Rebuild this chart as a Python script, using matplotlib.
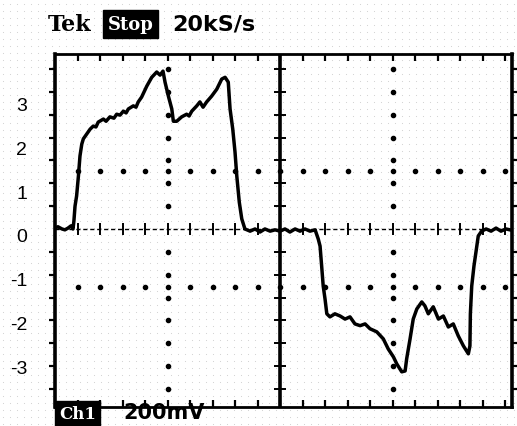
import numpy as np
import matplotlib
matplotlib.use("Agg")
import matplotlib.pyplot as plt
import matplotlib.transforms as mtransforms

# trace: time in minor graticule steps, signal in screen units
t = [0.00, 0.13, 0.31, 0.44, 0.58, 0.71, 0.80, 0.84, 0.89, 0.96, 1.04, 1.11, 1.19, 1.26,
     1.41, 1.56, 1.70, 1.82, 1.92, 2.15, 2.27, 2.44, 2.62, 2.74, 2.89, 3.04, 3.16, 3.26,
     3.48, 3.60, 3.70, 3.85, 4.08, 4.30, 4.52, 4.67, 4.80, 4.89, 5.04, 5.19, 5.26, 5.41,
     5.63, 5.85, 5.96, 6.08, 6.30, 6.44, 6.58, 6.74, 6.96, 7.19, 7.41, 7.56, 7.70, 7.78,
     7.90, 8.00, 8.08, 8.19, 8.30, 8.44, 8.67, 8.89, 9.11, 9.33, 9.56, 9.78, 10.00, 10.22,
     10.44, 10.67, 10.89, 11.11, 11.33, 11.56, 11.70, 11.78, 11.85, 11.92, 12.00, 12.08,
     12.22, 12.44, 12.67, 12.89, 13.11, 13.33, 13.56, 13.78, 14.00, 14.30, 14.59, 14.81,
     15.04, 15.19, 15.41, 15.56, 15.63, 15.78, 15.92, 16.08, 16.30, 16.44, 16.59, 16.81,
     17.04, 17.26, 17.48, 17.70, 17.92, 18.15, 18.37, 18.44, 18.46, 18.52, 18.62, 18.71,
     18.81, 18.96, 19.16, 19.38, 19.60, 19.82, 20.04, 20.22]
v = [0.02, 0.05, 0.00, -0.02, 0.02, 0.07, 0.00, 0.18, 0.52, 0.75, 1.20, 1.66, 1.93, 2.05,
     2.16, 2.27, 2.34, 2.32, 2.43, 2.50, 2.45, 2.55, 2.52, 2.61, 2.59, 2.68, 2.64, 2.73,
     2.80, 2.77, 2.89, 3.00, 3.25, 3.45, 3.57, 3.50, 3.59, 3.34, 3.02, 2.73, 2.45, 2.45,
     2.55, 2.61, 2.57, 2.68, 2.80, 2.89, 2.77, 2.89, 3.02, 3.18, 3.41, 3.45, 3.34, 2.73,
     2.27, 1.75, 1.20, 0.61, 0.23, 0.00, -0.05, 0.00, -0.07, 0.00, -0.05, -0.02, -0.05, 0.00,
     -0.07, 0.00, -0.05, 0.00, -0.05, -0.02, -0.23, -0.39, -0.84, -1.30, -1.59, -1.93,
     -2.00, -1.93, -1.98, -2.05, -2.00, -2.16, -2.20, -2.16, -2.27, -2.34, -2.50, -2.73,
     -2.91, -3.07, -3.25, -3.23, -2.95, -2.50, -2.05, -1.82, -1.66, -1.75, -1.93, -1.77,
     -2.05, -1.98, -2.23, -2.16, -2.43, -2.66, -2.84, -2.66, -1.93, -1.30, -0.84, -0.52,
     -0.16, -0.05, 0.00, -0.05, 0.02, -0.05, 0.00, -0.02]

y_ticks = [3, 2, 1, 0, -1, -2, -3]
header = "20kS/s"
scale = "200mV"

X_MAX = 20.31
Y_MIN, Y_MAX = -4.05, 3.98
X_MID = 10.0
Y_DIV = 1.32      # graticule row spacing in screen units
Y_STEP = 0.52     # minor tick step along vertical lines


def main():
    fig = plt.figure(figsize=(5.17, 4.27), dpi=100)

    # faint halftone texture of the scan
    gx, gy = np.meshgrid(np.arange(0.005, 1, 7 / 517), np.arange(0.005, 1, 7 / 427))
    bg = fig.add_axes([0, 0, 1, 1], zorder=-1)
    bg.scatter(gx.ravel(), gy.ravel(), s=0.6, color="#cfcfcf", linewidths=0)
    bg.set_xlim(0, 1)
    bg.set_ylim(0, 1)
    bg.axis("off")

    ax = fig.add_axes([55 / 517, 1 - 408 / 427, 457 / 517, 353 / 427])
    ax.patch.set_alpha(0)
    ax.set_xlim(0, X_MAX)
    ax.set_ylim(Y_MIN, Y_MAX)

    for s in ax.spines.values():
        s.set_linewidth(2.0)
    ax.spines["left"].set_linewidth(2.6)
    ax.spines["right"].set_linewidth(2.6)

    # graticule: centre cross
    ax.axvline(X_MID, color="black", lw=2.6, zorder=2)
    ax.axhline(0, color="black", lw=1.0, ls=(0, (3, 2)), zorder=2)

    xs = np.arange(1, X_MAX, 1.0)
    ys = np.concatenate([-np.arange(Y_STEP, -Y_MIN, Y_STEP), np.arange(Y_STEP, Y_MAX, Y_STEP)])
    # ticks on the centre lines
    ax.plot(xs, np.zeros_like(xs), ls="none", marker="|", ms=8, mew=1.4, color="black", zorder=2)
    ax.plot(np.full_like(ys, X_MID), ys, ls="none", marker="_", ms=9, mew=1.4, color="black", zorder=2)
    # ticks on the frame
    ax.plot(xs, np.full_like(xs, Y_MAX), ls="none", marker=3, ms=5, mew=1.6, color="black",
            clip_on=False)
    ax.plot(xs, np.full_like(xs, Y_MIN), ls="none", marker=2, ms=5, mew=1.6, color="black",
            clip_on=False)
    ax.plot(np.zeros_like(ys), ys, ls="none", marker=0, ms=4, mew=1.6, color="black",
            clip_on=False)
    ax.plot(np.full_like(ys, X_MAX), ys, ls="none", marker=1, ms=4, mew=1.6, color="black",
            clip_on=False)

    # dotted graticule rows / columns
    for yr in (-Y_DIV, Y_DIV):
        ax.plot(xs, np.full_like(xs, yr), ls="none", marker="o", ms=3.0, color="black")
    for xc in (5.0, 15.0):
        ax.plot(np.full_like(ys, xc), ys, ls="none", marker="o", ms=3.0, color="black")

    # trace
    ax.plot(t, v, color="black", lw=2.5, solid_joinstyle="round", zorder=3)

    ax.set_xticks([])
    ax.set_yticks(y_ticks)
    ax.set_yticklabels([str(y) for y in y_ticks], fontsize=14, family="Liberation Sans")
    ax.tick_params(axis="y", length=0, pad=20)
    shift = mtransforms.ScaledTranslation(0, -6 / 100, fig.dpi_scale_trans)
    for lab in ax.get_yticklabels():
        lab.set_transform(lab.get_transform() + shift)

    # scope header and footer readouts
    fig.text(48 / 517, 1 - 25 / 427, "Tek", fontsize=16, fontweight="bold",
             family="DejaVu Serif", va="center")
    fig.text(108 / 517, 1 - 25 / 427, "Stop", fontsize=13, fontweight="bold",
             family="DejaVu Serif", va="center", color="white",
             bbox=dict(boxstyle="square,pad=0.25", fc="black", ec="black"))
    fig.text(172 / 517, 1 - 25 / 427, header, fontsize=16, fontweight="bold",
             family="DejaVu Sans", va="center")
    fig.text(59 / 517, 1 - 415 / 427, "Ch1", fontsize=12, fontweight="bold",
             family="DejaVu Serif", va="center", color="white",
             bbox=dict(boxstyle="square,pad=0.25", fc="black", ec="black"))
    fig.text(123 / 517, 1 - 413 / 427, scale, fontsize=15, fontweight="bold",
             family="DejaVu Sans", va="center")

    fig.savefig("out.png", dpi=100, facecolor="white")
    return 0


if __name__ == "__main__":
    exit(main())
